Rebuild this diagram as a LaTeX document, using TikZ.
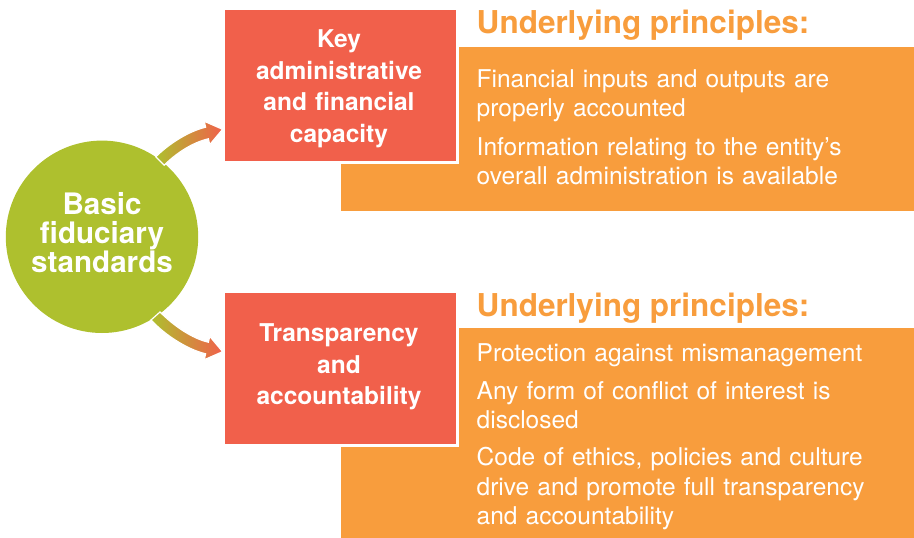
\documentclass[tikz,border=0pt]{standalone}
\usepackage{fontspec}
\setmainfont{TeX Gyre Heros}
\definecolor{fgreen}{HTML}{AEC02E}
\definecolor{fred}{HTML}{F1604B}
\definecolor{forange}{HTML}{F89D3D}
\definecolor{fmid}{HTML}{D2A53C}
\tikzset{
  obox/.style={fill=forange, draw=none},
  rbox/.style={fill=fred, draw=white, line width=2.5pt},
  rtext/.style={text=white, font=\bfseries\fontsize{24.5}{31.5}\selectfont, align=center, text width=230pt, inner sep=0pt, anchor=base},
  heading/.style={text=forange, font=\bfseries\fontsize{31.5}{31.5}\selectfont, inner sep=0pt, anchor=base west},
  item/.style={text=white, font=\fontsize{24.5}{29.5}\selectfont, align=left, text width=420pt, inner sep=0pt, anchor=base west},
  garrow/.style={left color=fgreen, middle color=fmid, right color=fred, draw=white, line width=1.2pt},
}
\begin{document}
\begin{tikzpicture}[x=1pt,y=-1pt]
\useasboundingbox (0,0) rectangle (914,538);
% orange panels
\path[obox] (341,46.7) rectangle (914,211);
\path[obox] (341,328) rectangle (914,538);
% red boxes
\node[rbox, minimum width=234pt, minimum height=153.5pt, inner sep=0pt, anchor=north west] (kbox) at (222,7.5) {};
\node[rbox, minimum width=234pt, minimum height=154pt, inner sep=0pt, anchor=north west] (tbox) at (222,290) {};
\node[rtext] (ktext) at (339,47.7) {Key\\administrative\\and financial\\capacity};
\node[rtext] (ttext) at (339,341.7) {Transparency\\and\\accountability};
% headings
\node[heading] (h1) at (476.5,33.3) {Underlying principles:};
\node[heading] (h2) at (476.5,316) {Underlying principles:};
% items
\node[item] (i1) at (476.5,87.3) {Financial inputs and outputs are\\properly accounted};
\node[item] (i2) at (476.5,155) {Information relating to the entity’s\\overall administration is available};
\node[item] (i3) at (476.5,361.7) {Protection against mismanagement};
\node[item] (i4) at (476.5,399) {Any form of conflict of interest is\\disclosed};
\node[item] (i5) at (476.5,465.7) {Code of ethics, policies and culture\\drive and promote full transparency\\and accountability};
% circle
\node[circle, fill=fgreen, minimum size=192.4pt, inner sep=0pt] (basic) at (102,236.8) {};
\node[text=white, font=\bfseries\fontsize{29.6}{29}\selectfont, align=center, text width=180pt, inner sep=0pt, anchor=base] (btext) at (102,214) {Basic\\fiduciary\\standards};
% arrows
\shadedraw[garrow] (155.8,156.8) .. controls (168.5,144.2) and (188,131.4) .. (205.6,127.2) -- (204.3,121.3) -- (222.6,129.3) -- (209.7,144.7) -- (208.4,138.8) .. controls (192,142.6) and (175.5,153.8) .. (164.2,165.2) -- cycle;
\shadedraw[garrow] (151,320) .. controls (166,336) and (188,349.6) .. (205.6,353.8) -- (204.3,359.7) -- (222.6,351.7) -- (209.7,336.3) -- (208.4,342.2) .. controls (192,338.4) and (174,326) .. (160,312) -- cycle;
\end{tikzpicture}
\end{document}
